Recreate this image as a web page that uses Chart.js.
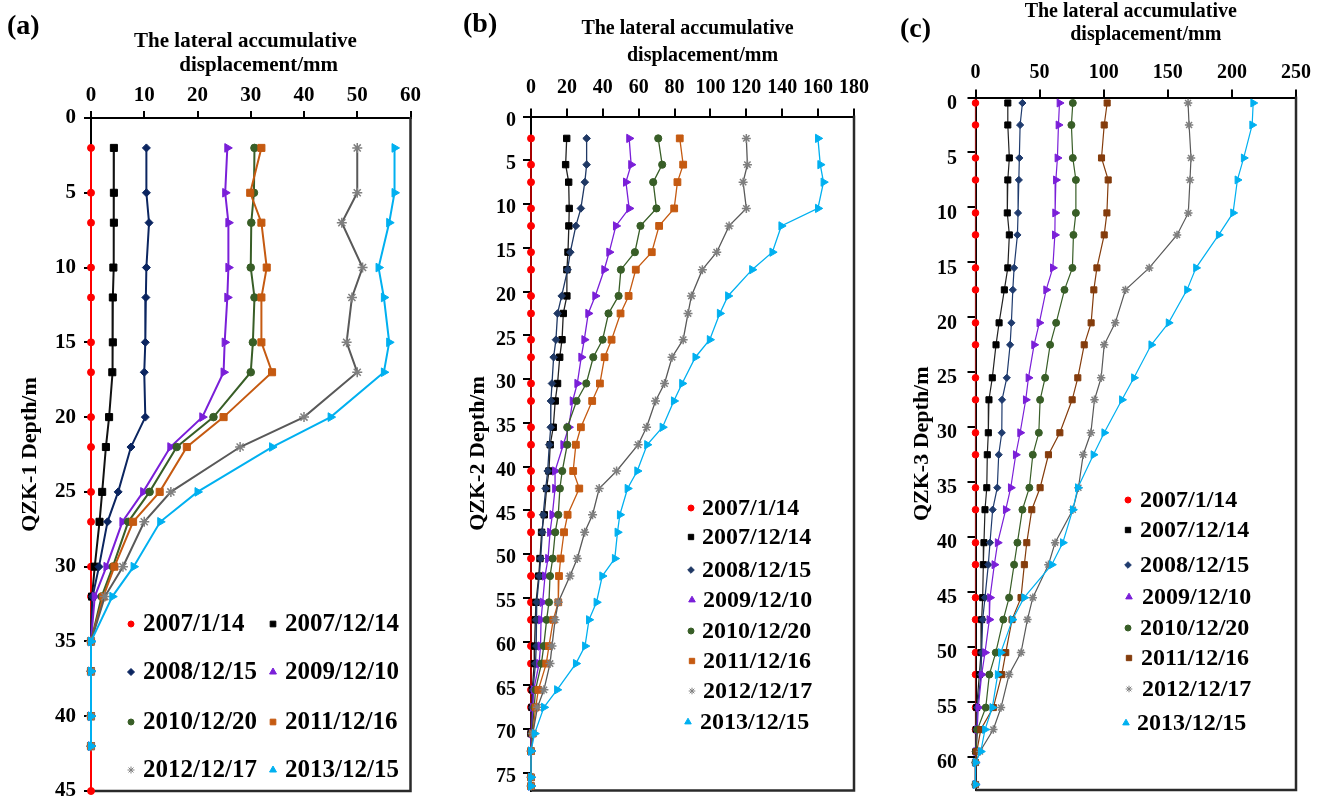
<!DOCTYPE html>
<html>
<head>
<meta charset="utf-8">
<script src="https://cdn.jsdelivr.net/npm/chart.js@4.4.1/dist/chart.umd.min.js"></script>
<style>
html,body{margin:0;padding:0;background:#fff;overflow:hidden;width:1320px;height:799px;}
canvas{position:absolute;top:0;}
.tag{position:absolute;font-family:'Liberation Serif','Times New Roman',serif;font-weight:bold;font-size:28px;line-height:28px;color:#000;}
</style>
</head>
<body>
<canvas id="ca" width="440" height="799" style="left:0px"></canvas>
<canvas id="cb" width="440" height="799" style="left:440px"></canvas>
<canvas id="cc" width="440" height="799" style="left:880px"></canvas>
<div class="tag" style="left:7px;top:11px">(a)</div>
<div class="tag" style="left:463px;top:9px">(b)</div>
<div class="tag" style="left:900px;top:14px">(c)</div>
<script>
// ---------- series names ----------
const seriesNames = ['2007/1/14','2007/12/14','2008/12/15','2009/12/10','2010/12/20','2011/12/16','2012/12/17','2013/12/15'];

// ---------- panel (a) QZK-1 ----------
const depthA = [2,5,7,10,12,15,17,20,22,25,27,30,32,35,37,40,42,45];
const a_070114 = [0,0,0,0,0,0,0,0,0,0,0,0,0,0,0,0,0,0];
const a_071214 = [4.3,4.3,4.3,4.2,4.1,4.1,4.0,3.4,2.8,2.1,1.6,0.7,0.2,0,0,0,0];
const a_081215 = [10.4,10.4,10.9,10.4,10.3,10.2,10.0,10.2,7.5,5.1,3.1,1.5,0.3,0,0,0,0];
const a_091210 = [25.6,25.2,25.8,25.8,25.6,25.1,24.9,20.9,14.9,9.8,5.9,2.9,0.7,0,0,0,0];
const a_101220 = [30.7,30.6,30.1,30.0,30.7,30.4,30.0,23.0,16.1,11.0,7.0,4.1,2.0,0,0,0,0];
const a_111216 = [32.0,29.9,32.0,33.0,32.0,32.0,34.0,24.9,18.0,12.9,7.9,4.4,2.3,0,0,0,0];
const a_121217 = [50.0,50.0,47.1,51.0,49.0,48.0,50.0,40.0,28.0,15.0,10.0,6.0,2.6,0,0,0,0];
const a_131215 = [57.0,57.0,56.0,54.0,55.0,56.0,55.0,45.0,34.0,20.0,13.0,8.0,4.0,0,0,0,0];

// ---------- panel (b) QZK-2 ----------
const depthB = [2.5,5.5,7.5,10.5,12.5,15.5,17.5,20.5,22.5,25.5,27.5,30.5,32.5,35.5,37.5,40.5,42.5,45.5,47.5,50.5,52.5,55.5,57.5,60.5,62.5,65.5,67.5,70.5,72.5,75.5,76.5];
const b_070114 = [0,0,0,0,0,0,0,0,0,0,0,0,0,0,0,0,0,0,0,0,0,0,0,0,0,0,0,0,0,0,0];
const b_071214 = [19.9,19.3,21.0,21.3,21.1,20.6,20.0,20.0,18.0,17.3,16.0,14.8,13.5,12.4,10.7,10.0,8.7,7.4,5.9,5.0,4.3,2.8,2.4,2.0,1.8,0.7,0.5,0,0,0,0];
const b_081215 = [31.0,31.0,30.0,27.8,25.0,21.9,20.4,17.1,14.8,13.9,12.6,11.7,11.1,11.0,10.2,9.3,8.2,6.8,6.3,5.4,4.6,3.2,2.8,3.0,2.5,1.1,0.8,0.3,0,0,0];
const b_091210 = [54.7,55.8,52.9,54.7,47.3,43.6,40.8,35.8,31.9,29.7,28.0,25.8,23.2,21.0,18.0,13.4,13.4,11.9,10.6,9.5,7.8,6.5,5.6,5.3,4.5,1.5,1.0,0.4,0,0,0];
const b_101220 = [70.9,73.1,68.1,69.9,61.0,57.9,50.1,48.8,43.2,39.9,34.7,30.8,25.4,20.2,20.2,17.4,16.1,15.2,13.5,12.1,10.6,10.0,8.7,7.1,5.8,2.5,1.8,0.6,0,0,0];
const b_111216 = [82.9,84.8,81.6,79.8,71.4,67.3,58.4,54.4,49.9,44.9,41.0,38.4,34.1,27.8,25.0,23.5,26.9,20.4,18.4,16.5,15.6,15.2,12.4,10.0,8.5,4.1,2.6,1.0,0,0,0];
const b_121217 = [120.0,120.6,118.2,120.0,110.4,103.5,95.5,89.4,87.5,84.8,78.6,74.4,69.4,64.4,59.7,47.7,38.0,34.3,29.9,25.8,21.7,15.2,13.4,11.7,10.6,7.2,3.6,1.0,0,0,0];
const b_131215 = [159.9,161.2,163.0,159.9,139.5,134.5,123.2,109.8,105.2,99.6,91.6,84.2,79.6,73.3,64.7,59.2,53.8,49.5,48.2,46.7,39.7,36.5,32.3,30.1,25.0,14.5,7.2,2.0,0,0,0];

// ---------- panel (c) QZK-3 ----------
const depthC = [0.5,2.5,5.5,7.5,10.5,12.5,15.5,17.5,20.5,22.5,25.5,27.5,30.5,32.5,35.5,37.5,40.5,42.5,45.5,47.5,50.5,52.5,55.5,57.5,59.5,60.5,62.5];
const c_070114 = [0,0,0,0,0,0,0,0,0,0,0,0,0,0,0,0,0,0,0,0,0,0,0,0,0,0,0];
const c_071214 = [25.2,25.2,26.4,25.2,24.8,26.4,25.2,22.5,18.4,16.0,13.1,10.5,10.0,9.2,8.8,7.4,6.6,6.1,5.6,4.8,4.3,3.0,0.9,0.5,0.3,0,0];
const c_081215 = [36.6,34.8,34.2,33.8,33.2,32.7,30.1,29.1,28.0,27.0,24.4,20.7,20.5,18.1,17.0,13.4,11.3,10.0,7.4,5.6,4.8,4.3,1.4,0.8,0.3,0,0];
const c_091210 = [65.5,64.7,63.9,62.7,62.1,61.9,60.3,55.1,49.8,45.7,41.3,39.2,34.8,31.4,27.5,23.6,17.3,14.7,11.3,10.8,7.4,4.8,2.2,1.3,0.5,0,0];
const c_101220 = [75.9,74.8,75.9,78.3,78.3,76.4,75.6,69.4,62.9,58.2,54.3,50.4,49.4,44.7,42.0,36.6,32.7,30.1,26.2,21.7,15.8,10.8,8.0,1.5,0.5,0,0];
const c_111216 = [102.7,100.4,98.3,103.5,102.5,100.4,94.7,92.3,90.2,84.8,79.8,75.4,65.8,56.9,50.4,43.9,40.0,38.1,35.5,28.5,23.6,20.5,13.9,4.1,1.0,0,0];
const c_121217 = [165.8,166.6,168.1,167.3,166.0,157.2,135.5,117.0,109.0,100.4,98.0,92.8,90.0,84.0,80.3,75.9,62.1,56.9,44.7,40.5,35.5,26.2,19.9,13.9,3.5,0,0];
const c_131215 = [216.6,215.8,209.2,204.3,200.9,189.7,172.0,165.0,150.6,137.1,123.6,114.2,100.4,92.0,79.8,75.9,68.1,59.5,37.9,28.8,19.7,17.3,13.1,7.4,4.1,0,0];

// ---------- axis ticks / titles ----------
const yTicksA = [0,5,10,15,20,25,30,35,40,45];
const yTicksB = [0,5,10,15,20,25,30,35,40,45,50,55,60,65,70,75];
const yTicksC = [0,5,10,15,20,25,30,35,40,45,50,55,60];
const xTicksA = [0,10,20,30,40,50,60];
const xTicksB = [0,20,40,60,80,100,120,140,160,180];
const xTicksC = [0,50,100,150,200,250];
const xTitleA = ['The lateral accumulative  ', '   displacement/mm'];
const xTitleB = ['The lateral accumulative  ', '    displacement/mm'];
const xTitleC = ['The lateral accumulative  ', '    displacement/mm'];
const yTitleA = 'QZK-1 Depth/m';
const yTitleB = 'QZK-2 Depth/m';
const yTitleC = 'QZK-3 Depth/m';

// ---------- styles ----------
const FONT = "'Liberation Serif','Times New Roman',serif";
const pointStyles = ['circle','rect','rectRot','triangle','circle','rect','star','triangle'];
const markA = ['#FF0000','#000000','#0B2560','#7A1FD8','#385E27','#C55A11','#7F7F7F','#00B0F0'];
const lineA = ['#FF0000','#111111','#0B2560','#7A1FD8','#385E27','#C55A11','#595959','#00B0F0'];
const markB = ['#FF0000','#000000','#1F3864','#7A1FD8','#385E27','#C55A11','#7F7F7F','#00B0F0'];
const lineB = ['#FF0000','#222222','#1F3864','#7A1FD8','#385E27','#C55A11','#595959','#00B0F0'];
const markC = ['#FF0000','#000000','#1F3B6E','#7A1FD8','#385E27','#843C0C','#7F7F7F','#00B0F0'];
const lineC = ['#8E1B1B','#222222','#1F3B6E','#7A1FD8','#385E27','#843C0C','#595959','#00B0F0'];

Chart.defaults.font.family = FONT;
Chart.defaults.color = '#000';

const framePlugin = {
  id: 'frame',
  beforeDatasetsDraw(chart, args, opts) {
    const {ctx, chartArea: a} = chart;
    ctx.save();
    ctx.strokeStyle = opts.color || '#222';
    ctx.lineWidth = opts.width || 2.5;
    ctx.beginPath();
    ctx.moveTo(a.right, a.top - 1);
    ctx.lineTo(a.right, a.bottom);
    ctx.lineTo(a.left, a.bottom);
    ctx.stroke();
    ctx.restore();
  }
};

function drawMarker(ctx, style, x, y, r, color) {
  ctx.save();
  ctx.fillStyle = color; ctx.strokeStyle = color; ctx.lineWidth = 1;
  if (Chart.helpers && Chart.helpers.drawPoint) {
    Chart.helpers.drawPoint(ctx, {pointStyle: style, radius: r, rotation: 0, borderWidth: style === 'star' ? 1.5 : 1}, x, y);
  } else {
    ctx.beginPath(); ctx.arc(x, y, r, 0, Math.PI * 2); ctx.fill();
  }
  ctx.restore();
}

const legendPlugin = {
  id: 'inLegend',
  afterDraw(chart, args, opts) {
    const ctx = chart.ctx;
    chart.data.datasets.forEach((ds, i) => {
      const p = opts.pos[i];
      drawMarker(ctx, pointStyles[i], p[0], p[1], opts.radii[i], ds.pointBackgroundColor);
      ctx.save();
      ctx.font = 'bold ' + opts.size + 'px ' + FONT;
      ctx.fillStyle = '#000';
      ctx.textAlign = 'left';
      ctx.textBaseline = 'middle';
      ctx.fillText(ds.label, p[2], p[1] + 1);
      ctx.restore();
    });
  }
};

function makePanel(id, cfg) {
  const datasets = cfg.series.map((vals, i) => ({
    label: seriesNames[i],
    data: vals.map((v, k) => ({x: v, y: cfg.depths[k]})),
    showLine: true,
    borderColor: cfg.lineColors[i],
    backgroundColor: cfg.markColors[i],
    borderWidth: cfg.lineWidth,
    pointStyle: pointStyles[i],
    pointRotation: pointStyles[i] === 'triangle' ? 90 : 0,
    pointRadius: cfg.radii[i],
    pointBackgroundColor: cfg.markColors[i],
    pointBorderColor: cfg.markColors[i],
    pointBorderWidth: pointStyles[i] === 'star' ? 1.5 : 1,
    tension: 0,
    clip: false,
    order: 7 - i
  }));
  return new Chart(document.getElementById(id), {
    type: 'scatter',
    data: {datasets},
    options: {
      responsive: false,
      animation: false,
      devicePixelRatio: 1,
      layout: {padding: {left: 0, top: 0, right: cfg.padRight, bottom: cfg.padBottom}},
      scales: {
        x: {
          type: 'linear', position: 'top', min: 0, max: cfg.xMax,
          ticks: {color: '#000', font: {size: cfg.tickSize, weight: 'bold'}, padding: cfg.xTickPad, maxRotation: 0, autoSkip: false},
          afterBuildTicks: s => { s.ticks = cfg.xTicks.map(v => ({value: v})); },
          grid: {drawOnChartArea: false, drawTicks: true, tickLength: cfg.tickLen, tickWidth: 2, tickColor: '#000', color: '#000', lineWidth: 2},
          border: {display: true, color: '#000', width: 2},
          title: {display: true, text: cfg.xTitle, color: '#000', font: {size: cfg.titleSize, weight: 'bold', lineHeight: cfg.titleLH}, padding: {top: cfg.titlePadTop, bottom: 0}},
          afterFit: s => { s.height = cfg.xH; s.paddingLeft = 0; s.paddingRight = 0; }
        },
        y: {
          type: 'linear', position: 'left', reverse: true, min: 0, max: cfg.yMax,
          ticks: {color: '#000', font: {size: cfg.tickSize, weight: 'bold'}, padding: cfg.yTickPad, labelOffset: cfg.yLabelOffset, autoSkip: false},
          afterBuildTicks: s => { s.ticks = cfg.yTicks.map(v => ({value: v})); },
          grid: {drawOnChartArea: false, drawTicks: true, tickLength: cfg.tickLen, tickWidth: 2, tickColor: '#000', color: '#000', lineWidth: 2},
          border: {display: true, color: '#000', width: 2},
          title: {display: true, text: cfg.yTitle, color: '#000', font: {size: cfg.yTitleSize, weight: 'bold', lineHeight: 1.2}, padding: {top: cfg.yTitlePad, bottom: 0}},
          afterFit: s => { s.width = cfg.yW; s.paddingTop = 0; s.paddingBottom = 0; }
        }
      },
      plugins: {
        legend: {display: false},
        tooltip: {enabled: false},
        frame: {color: '#2a2a2a', width: 2.5},
        inLegend: cfg.legend
      }
    },
    plugins: [framePlugin, legendPlugin]
  });
}

// Panel (a)
makePanel('ca', {
  depths: depthA,
  series: [a_070114, a_071214, a_081215, a_091210, a_101220, a_111216, a_121217, a_131215],
  lineColors: lineA, markColors: markA, lineWidth: 2,
  radii: [3.5, 5, 4, 5, 3.8, 5, 5, 5],
  xMax: 60, xTicks: xTicksA, yMax: 45, yTicks: yTicksA,
  xH: 118, yW: 91, padRight: 29.5, padBottom: 8,
  tickSize: 21, tickLen: 7, xTickPad: 3, yTickPad: 8, yLabelOffset: 0,
  xTitle: xTitleA, titleSize: 21, titleLH: 1.1, titlePadTop: 30.5,
  yTitle: yTitleA, yTitleSize: 22, yTitlePad: 16.8,
  legend: {
    size: 25,
    radii: [3, 4, 3.5, 4, 3, 4, 3.5, 4],
    pos: [[131,624,143],[273,624,285],[131,672,143],[273,672,285],[131,722,143],[273,722,285],[131,770,143],[273,770,285]]
  }
});

// Panel (b)
makePanel('cb', {
  depths: depthB,
  series: [b_070114, b_071214, b_081215, b_091210, b_101220, b_111216, b_121217, b_131215],
  lineColors: lineB, markColors: markB, lineWidth: 1.3,
  radii: [3.5, 4.5, 3.8, 4.8, 3.6, 4.8, 4.5, 4.8],
  xMax: 180, xTicks: xTicksB, yMax: 77, yTicks: yTicksB,
  xH: 116.5, yW: 91, padRight: 26, padBottom: 8.5,
  tickSize: 20, tickLen: 8, xTickPad: 9, yTickPad: 7, yLabelOffset: 4,
  xTitle: xTitleB, titleSize: 20, titleLH: 1.35, titlePadTop: 15.5,
  yTitle: yTitleB, yTitleSize: 22, yTitlePad: 24.8,
  legend: {
    size: 24,
    radii: [3, 3.8, 3.3, 3.8, 3, 3.8, 3.3, 3.8],
    pos: [[251,508,262],[251,537,262],[251,570,262],[252,600,263],[251,631,262],[252,661,263],[252,691,263],[248,722,260]]
  }
});

// Panel (c)
makePanel('cc', {
  depths: depthC,
  series: [c_070114, c_071214, c_081215, c_091210, c_101220, c_111216, c_121217, c_131215],
  lineColors: lineC, markColors: markC, lineWidth: 1.2,
  radii: [3.3, 4.3, 3.6, 4.6, 3.5, 4.3, 4.2, 4.6],
  xMax: 250, xTicks: xTicksC, yMax: 63, yTicks: yTicksC,
  xH: 97.5, yW: 95.5, padRight: 24, padBottom: 9,
  tickSize: 20, tickLen: 8, xTickPad: 5, yTickPad: 10.5, yLabelOffset: 6,
  xTitle: xTitleC, titleSize: 20, titleLH: 1.15, titlePadTop: 0.5,
  yTitle: yTitleC, yTitleSize: 22, yTitlePad: 28.8,
  legend: {
    size: 24,
    radii: [3, 3.8, 3.3, 3.8, 3, 3.8, 3.3, 3.8],
    pos: [[248,500,260],[248,530,260],[248,565,260],[249,597,262],[248,628,260],[249,658,261],[249,689,262],[246,723,257]]
  }
});
</script>
</body>
</html>
